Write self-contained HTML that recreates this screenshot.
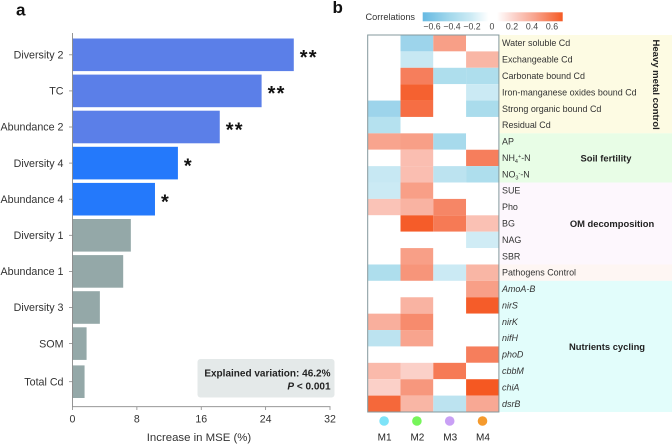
<!DOCTYPE html>
<html>
<head>
<meta charset="utf-8">
<style>
html,body{margin:0;padding:0;background:#fff;}
svg{display:block;font-family:"Liberation Sans",sans-serif;}
</style>
</head>
<body>
<svg id="fig" xmlns="http://www.w3.org/2000/svg" width="672" height="444" viewBox="0 0 672 444">
  <defs>
    <linearGradient id="legend-gradient" x1="0" x2="1" y1="0" y2="0">
      <stop offset="0" stop-color="#66b9e2"/>
      <stop offset="0.2" stop-color="#a5d9ec"/>
      <stop offset="0.34" stop-color="#cbeaf4"/>
      <stop offset="0.47" stop-color="#ffffff"/>
      <stop offset="0.53" stop-color="#ffffff"/>
      <stop offset="0.66" stop-color="#fbd0c8"/>
      <stop offset="0.8" stop-color="#f8a48e"/>
      <stop offset="1" stop-color="#f55a24"/>
    </linearGradient>
  </defs>
  <text x="16" y="15.5" font-size="17" font-weight="bold" fill="#111">a</text>
  <text x="332.5" y="13" font-size="17" font-weight="bold" fill="#111">b</text>

  <rect x="197.5" y="359" width="137" height="38.5" rx="3" fill="#e4e9e9"/>
  <text x="330.5" y="376.5" text-anchor="end" font-size="10" font-weight="bold" fill="#222">Explained variation: 46.2%</text>
  <text x="330.5" y="389.5" text-anchor="end" font-size="10" font-weight="bold" fill="#222"><tspan font-style="italic">P</tspan> &lt; 0.001</text>
  <text x="199" y="441" text-anchor="middle" font-size="11.4" fill="#333">Increase in MSE (%)</text>

  <text x="365.5" y="20" font-size="9.2" fill="#333">Correlations</text>
  <rect x="422.7" y="12.3" width="140" height="9" fill="url(#legend-gradient)"/>

  <g id="bars"></g>
  <g id="heat"></g>
</svg>
<script>
var barCategories = ['Diversity 2','TC','Abundance 2','Diversity 4','Abundance 4','Diversity 1','Abundance 1','Diversity 3','SOM','Total Cd'];
var barValues = [27.5,23.5,18.3,13.1,10.25,7.25,6.3,3.4,1.75,1.5];
var barGroups = ['a','a','a','b','b','c','c','c','c','c'];
var barStars = ['**','**','**','*','*','','','','',''];
var xTicks = [0,8,16,24,32];

var heatRows = ['Water soluble Cd','Exchangeable Cd','Carbonate bound Cd','Iron-manganese oxides bound Cd','Strong organic bound Cd','Residual Cd','AP','NH4+-N','NO3--N','SUE','Pho','BG','NAG','SBR','Pathogens Control','AmoA-B','nirS','nirK','nifH','phoD','cbbM','chiA','dsrB'];
var geneRows = ['AmoA-B','nirS','nirK','nifH','phoD','cbbM','chiA','dsrB'];
var heatCols = ['M1','M2','M3','M4'];
var heatValues = [
  [0,-0.45,0.42,0],
  [0,-0.22,0,0.32],
  [0,0.55,-0.33,-0.33],
  [0,0.68,0,-0.2],
  [-0.45,0.62,0,-0.35],
  [-0.3,0,0,0],
  [0.4,0.42,-0.37,0],
  [0,0.28,0,0.55],
  [-0.22,0.28,-0.27,-0.33],
  [-0.2,0.42,0,0],
  [0.26,0.33,0.52,0],
  [0,0.7,0.57,0.27],
  [0,0,0,-0.18],
  [0,0.42,0,0],
  [-0.33,0.46,-0.2,0.32],
  [0,0,0,0.42],
  [0,0.33,0,0.7],
  [0.35,0.5,0,0],
  [-0.27,0.4,0,0],
  [0,0,0,0.55],
  [0.3,0.2,0.57,0],
  [0.2,0.45,0,0.72],
  [0.65,0.32,-0.27,0.38]
];
var legendTicks = [-0.6,-0.4,-0.2,0,0.2,0.4,0.6];
var bandNames = ['Heavy metal control','Soil fertility','OM decomposition','','Nutrients cycling'];
var bandRowCounts = [6,3,5,1,8];

var NS = 'http://www.w3.org/2000/svg';
var barsG = document.getElementById('bars');
var heatG = document.getElementById('heat');

function make(parent, tag, attrs, txt) {
  var e = document.createElementNS(NS, tag);
  for (var k in attrs) e.setAttribute(k, attrs[k]);
  if (txt !== undefined) e.textContent = txt;
  parent.appendChild(e);
  return e;
}
function xScale(v) { return 72.5 + v * (330 - 72.5) / 32; }
function yBand(i) { return 38.5 + i * 36.1 + (i === barCategories.length - 1 ? 2 : 0); }
var BAR_H = 32.6;
function groupColor(g) { return g === 'a' ? '#5b7fe8' : g === 'b' ? '#2479fb' : '#94a8a8'; }

function legendX(v) { return 492 + v * 100; }
function hx(j) { return 367.7 + j * 32.8; }
function hy(i) { return 35 + i * (377 / 23); }

var posColors = [[0,255,255,255],[0.2,251,208,200],[0.4,248,164,142],[0.55,246,126,92],[0.72,245,88,34]];
var negColors = [[0,255,255,255],[0.2,203,234,244],[0.35,170,220,236],[0.5,150,208,234],[0.7,90,180,224]];
function heatColor(v) {
  if (v === 0) return '#ffffff';
  var s = v > 0 ? posColors : negColors, a = Math.abs(v), i = 0;
  while (i < s.length - 2 && a > s[i + 1][0]) i++;
  var t = Math.min(1, (a - s[i][0]) / (s[i + 1][0] - s[i][0]));
  var c = [1,2,3].map(function (n) { return Math.round(s[i][n] + t * (s[i + 1][n] - s[i][n])); });
  return 'rgb(' + c.join(',') + ')';
}

/* bar chart */
barCategories.forEach(function (name, i) {
  var y = yBand(i);
  var bar = make(barsG, 'rect', {x: xScale(0), y: y, width: xScale(barValues[i]) - xScale(0), height: BAR_H, fill: groupColor(barGroups[i])});
  
  
  var lab = make(barsG, 'text', {x: 63.5, y: y + BAR_H / 2 + 3.7, 'text-anchor': 'end', 'font-size': 10.7, fill: '#333'}, name);
  
  
  var tk = make(barsG, 'line', {x1: 69, x2: 72.5, y1: y + BAR_H / 2, y2: y + BAR_H / 2, stroke: '#888', 'stroke-width': 0.8});
  
  
  if (barStars[i]) {
    var st = make(barsG, 'text', {x: xScale(barValues[i]) + 6, y: y + BAR_H / 2 + 9.3, 'font-size': 20, 'font-weight': 'bold', 'letter-spacing': 1.2, fill: '#111'}, barStars[i]);
    
    
  }
});
var yAxis = make(barsG, 'line', {x1: 72.5, x2: 72.5, y1: 33, y2: 407, stroke: '#888', 'stroke-width': 0.9});


var xAxis = make(barsG, 'line', {x1: 72.5, x2: 330.5, y1: 406.7, y2: 406.7, stroke: '#888', 'stroke-width': 0.9});


xTicks.forEach(function (t) {
  var l = make(barsG, 'line', {x1: xScale(t), x2: xScale(t), y1: 406.7, y2: 410, stroke: '#888', 'stroke-width': 0.8});
  
  
  var tx = make(barsG, 'text', {x: xScale(t), y: 422.3, 'text-anchor': 'middle', 'font-size': 10.6, fill: '#333'}, String(t));
  
  
});

/* legend ticks */
legendTicks.forEach(function (t) {
  var s = t === 0 ? '0' : (t < 0 ? '\u2212' : '') + Math.abs(t).toFixed(1);
  var tx = make(heatG, 'text', {x: legendX(t), y: 29.3, 'text-anchor': 'middle', 'font-size': 8.8, fill: '#444'}, s);
  
  
});

/* side bands */
var bandColors = ['#fdfbe3','#e8fde6','#fdf7fd','#fef6f3','#e2fdfb'];
var bandLabelX = [653, 606, 612, 0, 607];
var bandStart = 0;
bandRowCounts.forEach(function (n, b) {
  var y0 = hy(bandStart), y1 = hy(bandStart + n);
  var r = make(heatG, 'rect', {x: hx(4), y: y0, width: 672 - hx(4), height: y1 - y0, fill: bandColors[b]});
  
  
  if (bandNames[b]) {
    var tx;
    if (b === 0) {
      tx = make(heatG, 'text', {transform: 'translate(' + bandLabelX[b] + ',' + ((y0 + y1) / 2 + 0.5) + ') rotate(90)', 'text-anchor': 'middle', 'font-size': 9.5, 'font-weight': 'bold', fill: '#222'}, bandNames[b]);
    } else {
      tx = make(heatG, 'text', {x: bandLabelX[b], y: (y0 + y1) / 2 + 3.4, 'text-anchor': 'middle', 'font-size': 9.4, 'font-weight': 'bold', fill: '#222'}, bandNames[b]);
    }
    
    
  }
  bandStart += n;
});

/* heatmap cells */
var rowH = hy(1) - hy(0);
heatRows.forEach(function (name, i) {
  heatCols.forEach(function (c, j) {
    var cell = make(heatG, 'rect', {x: hx(j), y: hy(i), width: 32.8, height: rowH, fill: heatColor(heatValues[i][j])});
    
    
  });
  var attrs = {x: 502, y: hy(i) + rowH / 2 + 3, 'font-size': 8.95, fill: '#333'};
  if (geneRows.indexOf(name) >= 0) attrs['font-style'] = 'italic';
  var m = name.match(/^(NH|NO)(\d)([+-])-N$/);
  var lab = make(heatG, 'text', attrs, m ? undefined : name);
  if (m) {
    make(lab, 'tspan', {}, m[1]);
    make(lab, 'tspan', {dy: 2, 'font-size': 5.5}, m[2]);
    make(lab, 'tspan', {dy: -5, 'font-size': 5.5}, m[3]);
    make(lab, 'tspan', {dy: 3}, '-N');
  }
  
  
});
var frame = make(heatG, 'rect', {x: hx(0), y: hy(0), width: hx(4) - hx(0), height: hy(23) - hy(0), fill: 'none', stroke: '#84989c', 'stroke-width': 1});



/* column markers */
var dotColors = ['#7de3f8','#76f55a','#c9a0f5','#f59a2d'];
heatCols.forEach(function (c, j) {
  var cx = hx(j) + 16.4;
  var d = make(heatG, 'circle', {cx: cx, cy: 421, r: 4.8, fill: dotColors[j]});
  
  
  var t = make(heatG, 'text', {x: cx + 0.5, y: 440.5, 'text-anchor': 'middle', 'font-size': 10, fill: '#222'}, c);
  
  
});
</script>
</body>
</html>
